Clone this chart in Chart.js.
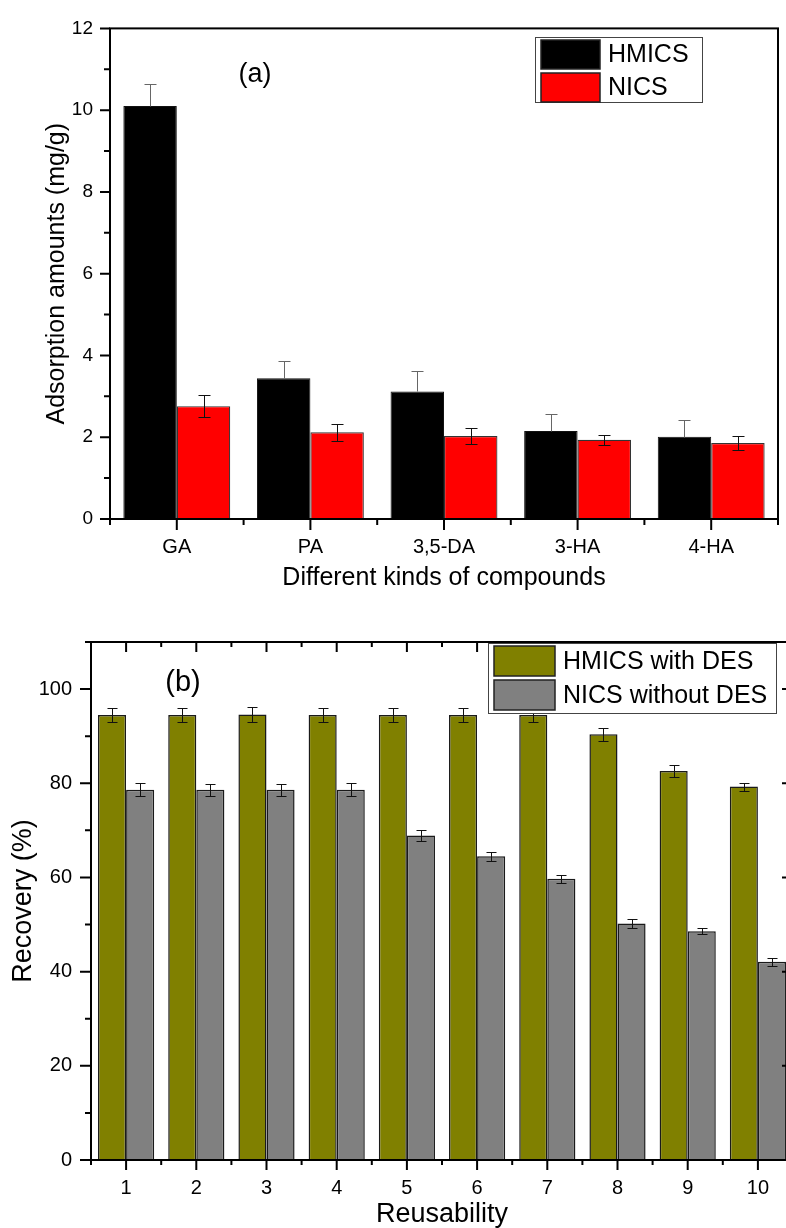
<!DOCTYPE html>
<html>
<head>
<meta charset="utf-8">
<script src="https://cdn.jsdelivr.net/npm/chart.js@4.4.0/dist/chart.umd.min.js"></script>
<style>
  html, body { margin: 0; padding: 0; background: #fff; overflow: hidden; }
  #wrap { position: relative; width: 786px; height: 1228px; overflow: hidden; background: #fff; }
  #panelA { position: absolute; left: 0; top: 0; }
  #panelB { position: absolute; left: 0; top: 600px; }
</style>
</head>
<body>
<div id="wrap">
  <canvas id="panelA" width="786" height="600"></canvas>
  <canvas id="panelB" width="800" height="640"></canvas>
</div>
<script>
// panel (a) data
const compounds = ['GA', 'PA', '3,5-DA', '3-HA', '4-HA'];
const hmicsAmount = [10.1, 3.44, 3.12, 2.15, 2.01];
const hmicsAmountErr = [0.53, 0.42, 0.49, 0.42, 0.41];
const nicsAmount = [2.76, 2.12, 2.03, 1.94, 1.86];
const nicsAmountErr = [0.27, 0.2, 0.19, 0.12, 0.17];

// panel (b) data
const cycles = ['1', '2', '3', '4', '5', '6', '7', '8', '9', '10'];
const withDes = [94.5, 94.5, 94.6, 94.5, 94.5, 94.5, 94.5, 90.4, 82.6, 79.3];
const withDesErr = [1.4, 1.5, 1.6, 1.4, 1.4, 1.5, 1.4, 1.4, 1.3, 0.85];
const withoutDes = [78.6, 78.6, 78.6, 78.6, 68.9, 64.5, 59.7, 50.2, 48.6, 42.1];
const withoutDesErr = [1.4, 1.3, 1.3, 1.4, 1.2, 1.0, 0.9, 1.0, 0.7, 0.8];

Chart.defaults.font.family = "'Liberation Sans', Arial, sans-serif";
Chart.defaults.color = '#000';
Chart.defaults.animation = false;

// error bars from the errors stored on each dataset
function drawErrorBars(chart, capHalf) {
    const ctx = chart.ctx;
    const y = chart.scales.y;
    chart.data.datasets.forEach((ds, i) => {
        const meta = chart.getDatasetMeta(i);
        ctx.save();
        ctx.strokeStyle = ds.errColor;
        ctx.lineWidth = 1;
        ctx.beginPath();
        meta.data.forEach((bar, j) => {
            const v = ds.data[j], e = ds.errors[j];
            const top = Math.round(y.getPixelForValue(v + e)) + 0.5;
            const bot = Math.round(y.getPixelForValue(ds.upperOnly ? v : v - e)) + 0.5;
            const px = Math.round(bar.x) + 0.5;
            ctx.moveTo(px, top); ctx.lineTo(px, bot);
            ctx.moveTo(px - capHalf, top); ctx.lineTo(px + capHalf, top);
            if (!ds.upperOnly) { ctx.moveTo(px - capHalf, bot); ctx.lineTo(px + capHalf, bot); }
        });
        ctx.stroke();
        ctx.restore();
    });
}

// axis box and tick marks
function drawFrame(chart, o) {
    const ctx = chart.ctx;
    const a = chart.chartArea;
    const x = chart.scales.x, y = chart.scales.y;
    ctx.save();
    ctx.strokeStyle = '#000';
    ctx.lineWidth = o.lineWidth;
    ctx.strokeRect(a.left, a.top, a.right - a.left, a.bottom - a.top);
    ctx.lineWidth = o.tickWidth;
    ctx.beginPath();
    y.ticks.forEach(t => {
        const py = y.getPixelForValue(t.value);
        const major = t.value % o.majorStep === 0;
        ctx.moveTo(a.left, py);
        ctx.lineTo(a.left - (major ? o.yMajor : o.yMinor), py);
        if (o.rightTick && major) {
            ctx.moveTo(a.right, py);
            ctx.lineTo(a.right - o.rightTick, py);
        }
    });
    const half = (x.getPixelForValue(1) - x.getPixelForValue(0)) / 2;
    x.ticks.forEach((t, i) => {
        const px = x.getPixelForValue(i);
        ctx.moveTo(px, a.bottom); ctx.lineTo(px, a.bottom + o.xMajor);
        ctx.moveTo(px - half, a.bottom); ctx.lineTo(px - half, a.bottom + o.xMinor);
        if (o.topTicks) {
            ctx.moveTo(px, a.top); ctx.lineTo(px, a.top + o.xMajor);
            ctx.moveTo(px - half, a.top); ctx.lineTo(px - half, a.top + o.xMinor);
        }
    });
    ctx.moveTo(a.right, a.bottom); ctx.lineTo(a.right, a.bottom + o.xMinor);
    ctx.stroke();
    ctx.restore();
}

// boxed legend inside the plot
function drawLegend(chart, box, font) {
    const ctx = chart.ctx;
    ctx.save();
    ctx.fillStyle = '#fff';
    ctx.fillRect(box.x, box.y, box.w, box.h);
    ctx.strokeStyle = '#444';
    ctx.lineWidth = 1;
    ctx.strokeRect(box.x + 0.5, box.y + 0.5, box.w, box.h);
    ctx.font = font;
    ctx.textBaseline = 'middle';
    chart.data.datasets.forEach((ds, i) => {
        const sy = box.y + 3 + i * (box.sh + 4);
        ctx.fillStyle = ds.backgroundColor;
        ctx.fillRect(box.x + 6, sy, box.sw, box.sh);
        ctx.strokeStyle = '#222';
        ctx.lineWidth = 1.5;
        ctx.strokeRect(box.x + 6, sy, box.sw, box.sh);
        ctx.fillStyle = '#000';
        ctx.fillText(ds.label, box.x + box.sw + 14, sy + box.sh / 2 + 1);
    });
    ctx.restore();
}

function panelLabel(chart, text, px, py, font) {
    const ctx = chart.ctx;
    ctx.save();
    ctx.font = font;
    ctx.fillStyle = '#000';
    ctx.textAlign = 'center';
    ctx.textBaseline = 'middle';
    ctx.fillText(text, px, py);
    ctx.restore();
}

// panel (a)
new Chart(document.getElementById('panelA'), {
    type: 'bar',
    data: {
        labels: compounds,
        datasets: [
            { label: 'HMICS', data: hmicsAmount, errors: hmicsAmountErr, errColor: '#666', upperOnly: true,
              backgroundColor: '#000000', borderColor: '#111', borderWidth: 1 },
            { label: 'NICS', data: nicsAmount, errors: nicsAmountErr, errColor: '#111',
              backgroundColor: '#ff0000', borderColor: '#333', borderWidth: 1.2 }
        ]
    },
    options: {
        responsive: false,
        layout: { padding: { top: 25.6, right: 8, left: 0, bottom: 0 } },
        categoryPercentage: 0.8,
        barPercentage: 1,
        plugins: { legend: { display: false }, tooltip: { enabled: false } },
        scales: {
            x: {
                grid: { display: false, drawTicks: false },
                border: { display: false },
                ticks: { padding: 16, font: { size: 20 } },
                title: { display: true, text: 'Different kinds of compounds', font: { size: 25 }, padding: { top: 0, bottom: 7 } },
                afterFit: s => { s.height = 81; }
            },
            y: {
                min: 0, max: 12,
                grid: { display: false, drawTicks: false },
                border: { display: false },
                ticks: { stepSize: 1, padding: 17, font: { size: 19 },
                         callback: v => (v % 2 === 0 ? v : '') },
                title: { display: true, text: 'Adsorption amounts (mg/g)', font: { size: 25 }, padding: { top: 42, bottom: 0 } },
                afterFit: s => { s.width = 110; }
            }
        }
    },
    plugins: [{
        id: 'decorA',
        afterDatasetsDraw: chart => drawErrorBars(chart, 6),
        afterDraw: chart => {
            drawFrame(chart, { lineWidth: 2, tickWidth: 2, majorStep: 2, yMajor: 10, yMinor: 6, xMajor: 11, xMinor: 6 });
            panelLabel(chart, '(a)', 255, 75, '27px "Liberation Sans", Arial, sans-serif');
            drawLegend(chart, { x: 535, y: 37, w: 167, h: 65, sw: 59, sh: 29 }, '25px "Liberation Sans", Arial, sans-serif');
        }
    }]
});

// panel (b)
new Chart(document.getElementById('panelB'), {
    type: 'bar',
    data: {
        labels: cycles,
        datasets: [
            { label: 'HMICS with DES', data: withDes, errors: withDesErr, errColor: '#111',
              backgroundColor: '#808000', borderColor: '#1a1a1a', borderWidth: 1.5 },
            { label: 'NICS without DES', data: withoutDes, errors: withoutDesErr, errColor: '#111',
              backgroundColor: '#808080', borderColor: '#1a1a1a', borderWidth: 1.5 }
        ]
    },
    options: {
        responsive: false,
        layout: { padding: { top: 42, right: 7, left: 0, bottom: 0 } },
        categoryPercentage: 0.8,
        barPercentage: 1,
        plugins: { legend: { display: false }, tooltip: { enabled: false } },
        scales: {
            x: {
                grid: { display: false, drawTicks: false },
                border: { display: false },
                ticks: { padding: 16, font: { size: 20 } },
                title: { display: true, text: 'Reusability', font: { size: 27 }, padding: { top: 0, bottom: 9 } },
                afterFit: s => { s.height = 80; }
            },
            y: {
                min: 0, max: 110,
                grid: { display: false, drawTicks: false },
                border: { display: false },
                ticks: { stepSize: 10, padding: 19, font: { size: 20 },
                         callback: v => (v % 20 === 0 ? v : '') },
                title: { display: true, text: 'Recovery (%)', font: { size: 27 }, padding: { top: 7, bottom: 0 } },
                afterFit: s => { s.width = 91; }
            }
        }
    },
    plugins: [{
        id: 'decorB',
        afterDatasetsDraw: chart => drawErrorBars(chart, 5),
        afterDraw: chart => {
            drawFrame(chart, { lineWidth: 2, tickWidth: 2, majorStep: 20, yMajor: 11, yMinor: 6, xMajor: 10, xMinor: 5, topTicks: true, rightTick: 11 });
            panelLabel(chart, '(b)', 183, 83, '29px "Liberation Sans", Arial, sans-serif');
            drawLegend(chart, { x: 488, y: 43, w: 288, h: 70, sw: 61, sh: 30 }, '25px "Liberation Sans", Arial, sans-serif');
        }
    }]
});
</script>
</body>
</html>
